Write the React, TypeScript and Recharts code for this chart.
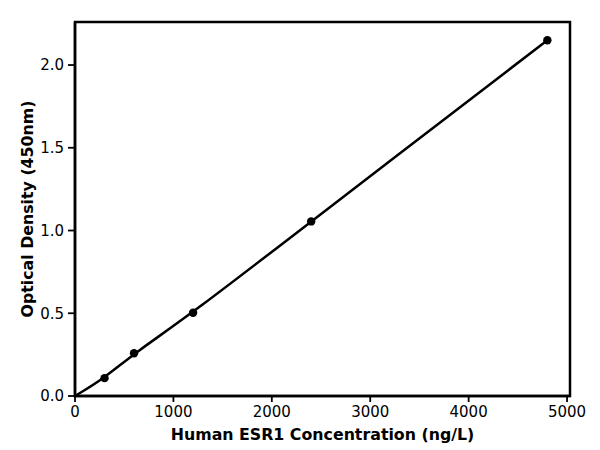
import React from "react";
import { ComposedChart, Line, XAxis, YAxis, ReferenceArea } from "recharts";

const concentrations = [0, 300, 600, 1200, 2400, 4800];
const opticalDensity = [0, 0.108, 0.258, 0.503, 1.055, 2.15];
const xTicks = [0, 1000, 2000, 3000, 4000, 5000];
const yTicks = [0, 0.5, 1.0, 1.5, 2.0];
const X_MAX = 5030;
const Y_MAX = 2.26;

const data = concentrations.map((c, i) => ({ conc: c, od: opticalDensity[i] }));

const FONT = "'DejaVu Sans', sans-serif";

const renderDot = (props: any) => {
  const { cx, cy, index } = props;
  if (index === 0) return <g key={`d${index}`} />;
  return <circle key={`d${index}`} cx={cx} cy={cy} r={4.2} fill="#000" />;
};

export default function App() {
  const tick = { fill: "#000", fontSize: 15, fontFamily: FONT };
  const labelStyle = { fill: "#000", fontSize: 15.8, fontWeight: "bold", fontFamily: FONT };
  return (
    <div style={{ position: "absolute", left: 0, top: 0, width: 600, height: 450, background: "#fff" }}>
      <ComposedChart
        width={600}
        height={450}
        data={data}
        margin={{ top: 22, right: 30, bottom: 6, left: 8 }}
      >
        <XAxis
          dataKey="conc"
          type="number"
          domain={[0, X_MAX]}
          ticks={xTicks}
          tick={tick}
          tickSize={6}
          tickMargin={4}
          axisLine={{ stroke: "#000", strokeWidth: 2.5 }}
          tickLine={{ stroke: "#000", strokeWidth: 1.8 }}
          height={48}
          label={{
            value: "Human ESR1 Concentration (ng/L)",
            position: "insideBottom",
            offset: 4,
            style: labelStyle,
          }}
        />
        <YAxis
          type="number"
          domain={[0, Y_MAX]}
          ticks={yTicks}
          tick={tick}
          tickFormatter={(v: number) => v.toFixed(1)}
          tickSize={7}
          tickMargin={4}
          axisLine={{ stroke: "#000", strokeWidth: 2.5 }}
          tickLine={{ stroke: "#000", strokeWidth: 1.8 }}
          width={67}
          label={{
            value: "Optical Density (450nm)",
            angle: -90,
            position: "insideLeft",
            offset: 19,
            style: { ...labelStyle, textAnchor: "middle" },
          }}
        />
        <ReferenceArea
          x1={0}
          x2={X_MAX}
          y1={0}
          y2={Y_MAX}
          fill="none"
          fillOpacity={0}
          stroke="#000"
          strokeWidth={2.5}
          strokeOpacity={1}
        />
        <Line
          dataKey="od"
          type="basis"
          stroke="#000"
          strokeWidth={2.5}
          dot={renderDot}
          activeDot={false}
          isAnimationActive={false}
        />
      </ComposedChart>
    </div>
  );
}
